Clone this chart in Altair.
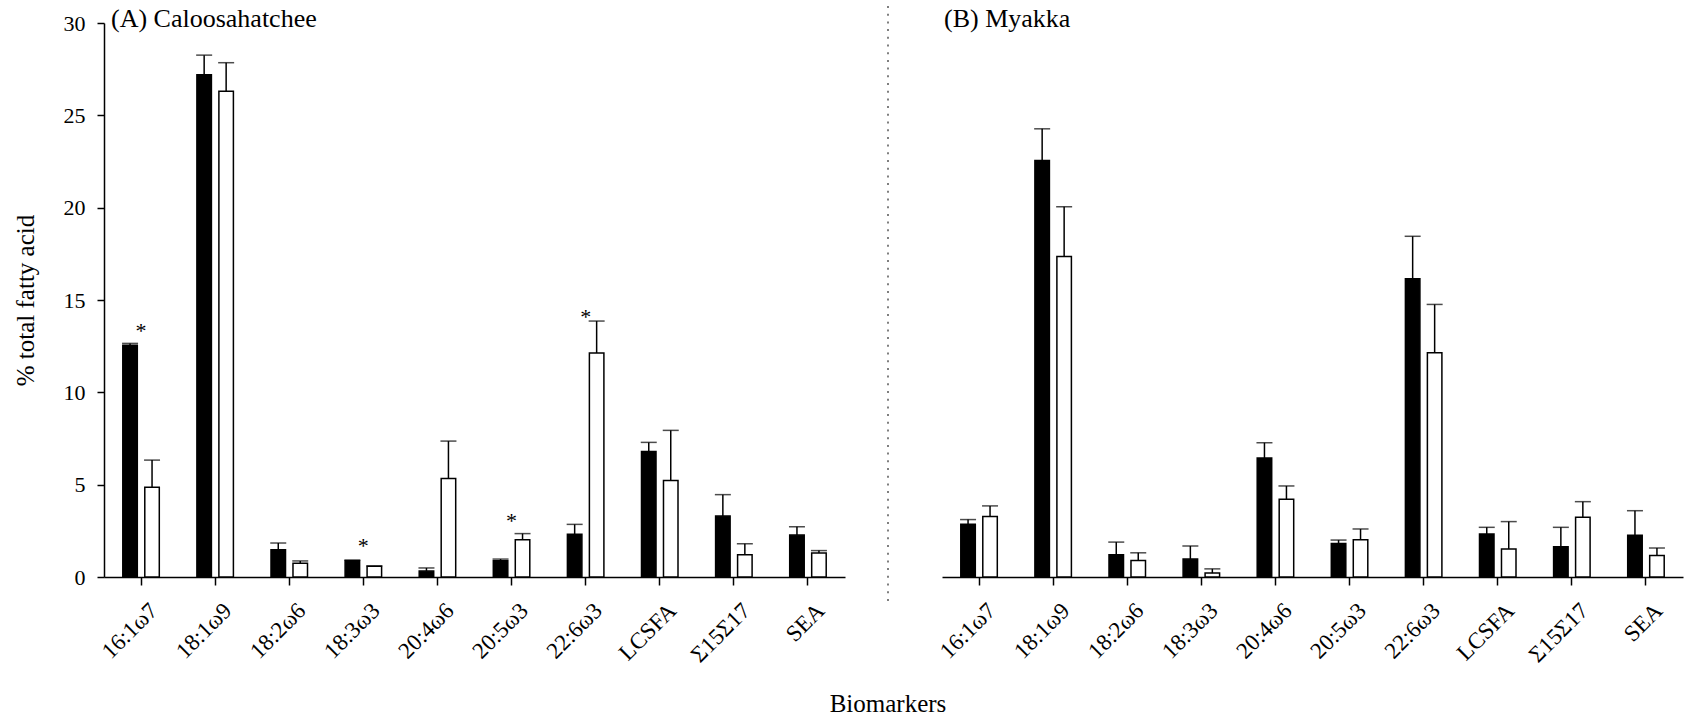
import altair as alt
import pandas as pd

markers = ["16:1ω7", "18:1ω9", "18:2ω6", "18:3ω3", "20:4ω6", "20:5ω3",
           "22:6ω3", "LCSFA", "Σ15Σ17", "SEA"]
groups = ["filled", "open"]

# (A) Caloosahatchee
cal_filled = [12.55, 27.20, 1.48, 0.88, 0.32, 0.88, 2.31, 6.79, 3.30, 2.27]
cal_filled_se = [0.10, 1.06, 0.36, 0.04, 0.17, 0.09, 0.54, 0.50, 1.16, 0.45]
cal_open = [4.86, 26.31, 0.74, 0.58, 5.34, 2.02, 12.13, 5.22, 1.21, 1.30]
cal_open_se = [1.47, 1.54, 0.13, 0.02, 2.02, 0.33, 1.73, 2.72, 0.59, 0.13]

# (B) Myakka
mya_filled = [2.86, 22.55, 1.20, 0.97, 6.44, 1.82, 16.15, 2.33, 1.64, 2.26]
mya_filled_se = [0.25, 1.72, 0.69, 0.71, 0.83, 0.18, 2.30, 0.36, 1.05, 1.33]
mya_open = [3.27, 17.35, 0.89, 0.21, 4.21, 2.02, 12.14, 1.52, 3.23, 1.17]
mya_open_se = [0.58, 2.70, 0.42, 0.23, 0.72, 0.58, 2.62, 1.48, 0.85, 0.40]

# significance stars (Caloosahatchee)
star_markers = ["16:1ω7", "18:3ω3", "20:5ω3", "22:6ω3"]
star_heights = [13.3, 1.7, 3.05, 14.1]

FONT = "Liberation Serif"


def make_df(filled, filled_se, open_, open_se):
    rows = []
    for i, m in enumerate(markers):
        rows.append({"marker": m, "group": "filled", "value": filled[i],
                     "top": filled[i] + filled_se[i]})
        rows.append({"marker": m, "group": "open", "value": open_[i],
                     "top": open_[i] + open_se[i]})
    return pd.DataFrame(rows)


xscale = alt.Scale(domain=markers, paddingInner=0, paddingOuter=0)
offscale = alt.Scale(domain=groups, paddingInner=0.34, paddingOuter=0.855)
yscale = alt.Scale(domain=[0, 30], nice=False)
colscale = alt.Scale(domain=groups, range=["#000000", "#ffffff"])


def panel(df, title, title_x, show_y, extra=None):
    xenc = alt.X("marker:N", scale=xscale, sort=markers, title=None,
                 axis=alt.Axis(labelAngle=-45, labelFont=FONT, labelFontSize=23,
                               labelColor="#000", domainColor="#000", domainWidth=1.5,
                               tickColor="#000", tickSize=8, tickWidth=1.5,
                               labelPadding=14, labelOffset=5, grid=False))
    if show_y:
        yaxis = alt.Axis(values=[0, 5, 10, 15, 20, 25, 30], labelFont=FONT,
                         labelFontSize=22, labelColor="#000", domainColor="#000",
                         domainWidth=1.5, tickColor="#000", tickSize=7, tickWidth=1.5,
                         labelPadding=12, grid=False, title="% total fatty acid",
                         titleFont=FONT, titleFontSize=25, titleFontWeight="normal",
                         titleColor="#000", titlePadding=25)
    else:
        yaxis = None
    base = alt.Chart(df).encode(
        x=xenc,
        xOffset=alt.XOffset("group:N", scale=offscale, sort=groups),
    )
    bars = base.mark_bar(stroke="#000", strokeWidth=1.5).encode(
        y=alt.Y("value:Q", scale=yscale, axis=yaxis),
        fill=alt.Fill("group:N", scale=colscale, legend=None),
    )
    err = base.mark_rule(color="#000", strokeWidth=1.5).encode(
        y=alt.Y("value:Q", scale=yscale), y2="top:Q")
    caps = base.mark_tick(color="#000", orient="horizontal", size=16,
                          thickness=1.5).encode(y=alt.Y("top:Q", scale=yscale))
    label = alt.Chart(pd.DataFrame({"t": [title]})).mark_text(
        font=FONT, fontSize=26, align="left", baseline="middle", color="#000"
    ).encode(text="t:N", x=alt.value(title_x), y=alt.value(-4))
    layers = [bars, err, caps, label]
    if extra is not None:
        layers += extra
    return alt.layer(*layers).properties(width=741, height=554)


cal_df = make_df(cal_filled, cal_filled_se, cal_open, cal_open_se)
mya_df = make_df(mya_filled, mya_filled_se, mya_open, mya_open_se)

stars = alt.Chart(pd.DataFrame({"marker": star_markers, "h": star_heights})).mark_text(
    text="*", font=FONT, fontSize=22, baseline="middle", color="#000"
).encode(x=alt.X("marker:N", scale=xscale, sort=markers),
         y=alt.Y("h:Q", scale=yscale))

divider = alt.Chart(pd.DataFrame({"d": [0]})).mark_rule(
    color="#555", strokeWidth=1.5, strokeDash=[2, 5.7]
).encode(x=alt.value(-54), y=alt.value(-17), y2=alt.value(582))

left = panel(cal_df, "(A) Caloosahatchee", 7, True, [stars])
right = panel(mya_df, "(B) Myakka", 2, False, [divider])

chart = alt.hconcat(left, right, spacing=97, bounds="flush").properties(
    title=alt.TitleParams("Biomarkers", orient="bottom", anchor="middle",
                          font=FONT, fontSize=25, fontWeight="normal",
                          color="#000", offset=25, dx=40),
    padding={"left": 13, "top": 5, "right": 5, "bottom": 0},
).configure_view(stroke=None)

chart.save("out.html", embed_options={"renderer": "svg", "actions": False})
